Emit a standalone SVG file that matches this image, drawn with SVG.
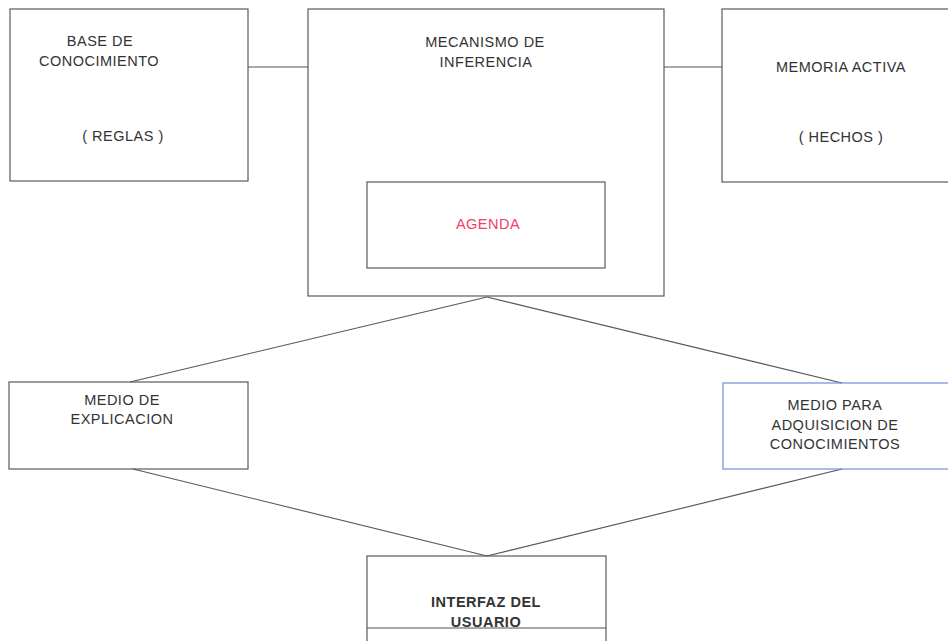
<svg xmlns="http://www.w3.org/2000/svg" width="948" height="641" viewBox="0 0 948 641">
  <style>
    .box { fill: none; stroke: #5a5a5a; stroke-width: 1.2; }
    .blue { stroke: #6f8fd8; }
    .link { fill: none; stroke: #555; stroke-width: 1.1; }
    .t { font-family: "Liberation Sans", Arial, sans-serif; font-size: 14.5px; fill: #333; text-anchor: middle; letter-spacing: 0.5px; }
    .red { fill: #f0406a; }
    .b { font-weight: bold; }
  </style>
  <rect width="948" height="641" fill="#ffffff"/>

  <g id="connectors">
    <line class="link" x1="248" y1="67" x2="308" y2="67"/>
    <line class="link" x1="664" y1="67" x2="722" y2="67"/>
    <line class="link" x1="487" y1="297" x2="130" y2="382"/>
    <line class="link" x1="487" y1="297" x2="842" y2="383"/>
    <line class="link" x1="133" y1="469" x2="487" y2="556"/>
    <line class="link" x1="842" y1="469" x2="487" y2="556"/>
  </g>

  <g id="base-conocimiento">
    <rect class="box" x="10" y="9" width="238" height="172"/>
    <text class="t" x="100" y="46">BASE DE</text>
    <text class="t" x="99" y="66">CONOCIMIENTO</text>
    <text class="t" x="123" y="141">( REGLAS )</text>
  </g>

  <g id="mecanismo-inferencia">
    <rect class="box" x="308" y="9" width="356" height="287"/>
    <text class="t" x="485" y="47">MECANISMO DE</text>
    <text class="t" x="486" y="67">INFERENCIA</text>
  </g>

  <g id="agenda">
    <rect class="box" x="367" y="182" width="238" height="86"/>
    <text class="t red" x="488" y="229">AGENDA</text>
  </g>

  <g id="memoria-activa">
    <rect class="box" x="722" y="9" width="240" height="173"/>
    <text class="t" x="841" y="72">MEMORIA ACTIVA</text>
    <text class="t" x="841" y="142">( HECHOS )</text>
  </g>

  <g id="medio-explicacion">
    <rect class="box" x="9" y="382" width="239" height="87"/>
    <text class="t" x="122" y="405">MEDIO DE</text>
    <text class="t" x="122" y="424">EXPLICACION</text>
  </g>

  <g id="medio-adquisicion">
    <rect class="box blue" x="723" y="383" width="240" height="86"/>
    <text class="t" x="835" y="410">MEDIO PARA</text>
    <text class="t" x="835" y="430">ADQUISICION DE</text>
    <text class="t" x="835" y="449">CONOCIMIENTOS</text>
  </g>

  <g id="interfaz-usuario">
    <rect class="box" x="367" y="556" width="239" height="95"/>
    <line class="link" x1="367" y1="628" x2="606" y2="628"/>
    <text class="t b" x="486" y="607">INTERFAZ DEL</text>
    <text class="t b" x="486" y="627">USUARIO</text>
  </g>
</svg>
